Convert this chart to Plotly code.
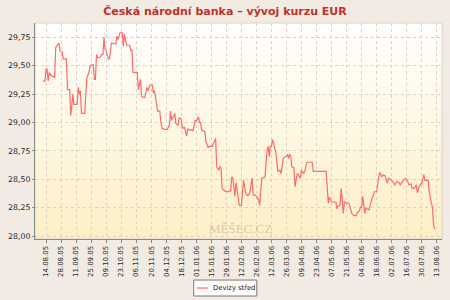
import plotly.graph_objects as go

dates = [
    "2005-08-11", "2005-08-13", "2005-08-14", "2005-08-15", "2005-08-16", "2005-08-17", "2005-08-19",
    "2005-08-22", "2005-08-23", "2005-08-26", "2005-08-27", "2005-08-29", "2005-08-30", "2005-09-02",
    "2005-09-03", "2005-09-05", "2005-09-06", "2005-09-08", "2005-09-09", "2005-09-12", "2005-09-13",
    "2005-09-14", "2005-09-15", "2005-09-16", "2005-09-19", "2005-09-20", "2005-09-21", "2005-09-23",
    "2005-09-24", "2005-09-27", "2005-09-28", "2005-09-29", "2005-09-30", "2005-10-01", "2005-10-03",
    "2005-10-05", "2005-10-06", "2005-10-07", "2005-10-08", "2005-10-09", "2005-10-11", "2005-10-12",
    "2005-10-14", "2005-10-18", "2005-10-19", "2005-10-20", "2005-10-22", "2005-10-24", "2005-10-25",
    "2005-10-26", "2005-10-28", "2005-10-31", "2005-11-01", "2005-11-02", "2005-11-03", "2005-11-07",
    "2005-11-08", "2005-11-10", "2005-11-11", "2005-11-13", "2005-11-14", "2005-11-16", "2005-11-17",
    "2005-11-19", "2005-11-21", "2005-11-22", "2005-11-23", "2005-11-26", "2005-11-28", "2005-11-29",
    "2005-11-30", "2005-12-02", "2005-12-05", "2005-12-07", "2005-12-08", "2005-12-09", "2005-12-12",
    "2005-12-13", "2005-12-15", "2005-12-16", "2005-12-18", "2005-12-19", "2005-12-21", "2005-12-22",
    "2005-12-23", "2005-12-24", "2005-12-29", "2005-12-31", "2006-01-01", "2006-01-03", "2006-01-04",
    "2006-01-05", "2006-01-06", "2006-01-09", "2006-01-10", "2006-01-12", "2006-01-13", "2006-01-16",
    "2006-01-17", "2006-01-19", "2006-01-20", "2006-01-22", "2006-01-23", "2006-01-24", "2006-01-25",
    "2006-01-27", "2006-01-30", "2006-02-02", "2006-02-03", "2006-02-04", "2006-02-06", "2006-02-07",
    "2006-02-08", "2006-02-09", "2006-02-10", "2006-02-12", "2006-02-13", "2006-02-14", "2006-02-16",
    "2006-02-17", "2006-02-19", "2006-02-20", "2006-02-22", "2006-02-23", "2006-02-25", "2006-02-26",
    "2006-02-28", "2006-03-01", "2006-03-03", "2006-03-05", "2006-03-06", "2006-03-08", "2006-03-09",
    "2006-03-10", "2006-03-11", "2006-03-12", "2006-03-13", "2006-03-16", "2006-03-18", "2006-03-20",
    "2006-03-21", "2006-03-23", "2006-03-25", "2006-03-27", "2006-03-28", "2006-03-29", "2006-03-30",
    "2006-03-31", "2006-04-02", "2006-04-03", "2006-04-05", "2006-04-06", "2006-04-08", "2006-04-09",
    "2006-04-11", "2006-04-12", "2006-04-14", "2006-04-19", "2006-04-20", "2006-05-02", "2006-05-04",
    "2006-05-05", "2006-05-07", "2006-05-11", "2006-05-12", "2006-05-13", "2006-05-15", "2006-05-16",
    "2006-05-18", "2006-05-19", "2006-05-21", "2006-05-23", "2006-05-25", "2006-05-26", "2006-05-28",
    "2006-05-30", "2006-05-31", "2006-06-02", "2006-06-03", "2006-06-04", "2006-06-05", "2006-06-07",
    "2006-06-08", "2006-06-11", "2006-06-13", "2006-06-15", "2006-06-16", "2006-06-18", "2006-06-19",
    "2006-06-20", "2006-06-21", "2006-06-23", "2006-06-24", "2006-06-26", "2006-06-28", "2006-06-29",
    "2006-07-01", "2006-07-03", "2006-07-05", "2006-07-07", "2006-07-09", "2006-07-10", "2006-07-13",
    "2006-07-15", "2006-07-17", "2006-07-18", "2006-07-20", "2006-07-21", "2006-07-23", "2006-07-25",
    "2006-07-26", "2006-07-27", "2006-07-29", "2006-07-30", "2006-08-01", "2006-08-02", "2006-08-05",
    "2006-08-06", "2006-08-08", "2006-08-09", "2006-08-10", "2006-08-11",
]

eur_mid = [
    29.365, 29.365, 29.47, 29.47, 29.365, 29.44, 29.41,
    29.40, 29.66, 29.70, 29.63, 29.62, 29.56, 29.56,
    29.29, 29.29, 29.06, 29.25, 29.16, 29.16, 29.31,
    29.25, 29.28, 29.08, 29.08, 29.26, 29.39, 29.44,
    29.50, 29.51, 29.38, 29.38, 29.60, 29.57, 29.57,
    29.60, 29.60, 29.75, 29.64, 29.63, 29.56, 29.56,
    29.70, 29.69, 29.76, 29.73, 29.79, 29.79, 29.67,
    29.78, 29.68, 29.68, 29.63, 29.64, 29.44, 29.44,
    29.29, 29.38, 29.23, 29.22, 29.22, 29.31, 29.28,
    29.33, 29.33, 29.26, 29.28, 29.10, 29.10, 29.00,
    28.95, 28.94, 28.94, 28.98, 29.10, 29.02, 29.08,
    28.99, 28.975, 29.04, 29.03, 28.95, 28.955, 28.92,
    28.88, 28.94, 28.93, 29.02, 29.01, 29.05, 29.00,
    29.00, 28.93, 28.92, 28.83, 28.78, 28.79, 28.79,
    28.82, 28.86, 28.61, 28.58, 28.61, 28.60, 28.42,
    28.40, 28.39, 28.40, 28.52, 28.51, 28.35, 28.47,
    28.41, 28.35, 28.27, 28.27, 28.38, 28.49, 28.38,
    28.36, 28.36, 28.39, 28.51, 28.36, 28.36, 28.35,
    28.32, 28.27, 28.51, 28.52, 28.52, 28.76, 28.79,
    28.70, 28.79, 28.79, 28.85, 28.74, 28.57, 28.58,
    28.55, 28.685, 28.70, 28.715, 28.685, 28.72, 28.70,
    28.61, 28.60, 28.435, 28.55, 28.54, 28.51, 28.58,
    28.55, 28.57, 28.65, 28.65, 28.57, 28.57, 28.29,
    28.34, 28.30, 28.30, 28.24, 28.26, 28.27, 28.42,
    28.20, 28.30, 28.29, 28.29, 28.23, 28.195, 28.18,
    28.18, 28.205, 28.225, 28.255, 28.25, 28.35, 28.20,
    28.245, 28.23, 28.31, 28.36, 28.39, 28.39, 28.48,
    28.52, 28.56, 28.52, 28.54, 28.53, 28.465, 28.51,
    28.50, 28.48, 28.45, 28.48, 28.47, 28.45, 28.49,
    28.51, 28.48, 28.45, 28.46, 28.42, 28.42, 28.45,
    28.38, 28.42, 28.46, 28.46, 28.54, 28.49, 28.49,
    28.39, 28.29, 28.255, 28.10, 28.06,
]

series_name = "Devizy střed"
title_text = "Česká národní banka – vývoj kurzu EUR"
y_ticks = [28.00, 28.25, 28.50, 28.75, 29.00, 29.25, 29.50, 29.75]

LINE = "#ff6b6b"
PAGE = "#f2ebe3"

fig = go.Figure()
fig.add_trace(go.Scatter(x=dates, y=eur_mid, mode="lines", name=series_name,
                         line=dict(color=LINE, width=1.2), showlegend=False))

shapes = []
# vertical gradient background of the plot area (white -> pale yellow)
n = 40
top = (255, 255, 254)
bot = (253, 239, 198)
for i in range(n):
    t = (i + 0.5) / n
    c = tuple(round(top[k] + (bot[k] - top[k]) * t) for k in range(3))
    shapes.append(dict(type="rect", xref="x domain", yref="y domain",
                       x0=0, x1=1, y0=1 - (i + 1) / n, y1=1 - i / n + 0.001,
                       fillcolor="rgb(%d,%d,%d)" % c, line=dict(width=0), layer="below"))
shapes.append(dict(type="rect", xref="x domain", yref="y domain", x0=0, x1=1, y0=0, y1=1,
                   line=dict(color="#d9d2ca", width=1), fillcolor="rgba(0,0,0,0)", layer="below"))
# custom legend box
shapes.append(dict(type="rect", xref="paper", yref="paper", x0=0.390, x1=0.545, y0=-0.264, y1=-0.190,
                   line=dict(color="#7a7a7a", width=1), fillcolor="#fbfaf8"))
shapes.append(dict(type="line", xref="paper", yref="paper", x0=0.398, x1=0.424, y0=-0.227, y1=-0.227,
                   line=dict(color=LINE, width=1.2)))

annotations = [
    dict(text=series_name, xref="paper", yref="paper", x=0.433, y=-0.227, xanchor="left", yanchor="middle",
         showarrow=False, font=dict(family="DejaVu Sans", size=6.8, color="#222222")),
    dict(text="MĚŠEC.CZ", xref="paper", yref="paper", x=0.505, y=0.05, xanchor="center", yanchor="middle",
         showarrow=False, font=dict(family="Liberation Serif", size=13, color="rgba(185,165,130,0.55)")),
]

fig.update_layout(
    width=450, height=300,
    margin=dict(l=27, r=8, t=23, b=61),
    paper_bgcolor=PAGE, plot_bgcolor="rgba(0,0,0,0)",
    separators=", ",
    title=dict(text=title_text, x=0.5, xanchor="center", y=0.962, yanchor="middle",
               font=dict(family="DejaVu Sans", size=11, color="#c0322a", weight="bold")),
    shapes=shapes, annotations=annotations,
    showlegend=False,
)
fig.update_xaxes(
    type="date", range=["2005-08-03 17:00", "2006-08-17 22:00"],
    tick0="2005-08-14", dtick=14 * 86400000, tickformat="%d.%m.%y", tickangle=-90,
    ticks="outside", ticklen=3, tickcolor="#888888",
    showline=True, linecolor="#8a8a8a", linewidth=1,
    showgrid=True, gridcolor="#d8d3cc", griddash="dot", gridwidth=1,
    tickfont=dict(family="DejaVu Sans", size=7, color="#2a2a2a"), zeroline=False,
)
fig.update_yaxes(
    range=[27.974, 29.876], tickvals=y_ticks, tickformat=".2f",
    ticks="outside", ticklen=2, tickcolor="#888888",
    showline=True, linecolor="#8a8a8a", linewidth=1,
    showgrid=True, gridcolor="#d8d3cc", griddash="dot", gridwidth=1,
    tickfont=dict(family="DejaVu Sans", size=7.8, color="#2a2a2a"), zeroline=False,
)

fig.write_html("out.html")
